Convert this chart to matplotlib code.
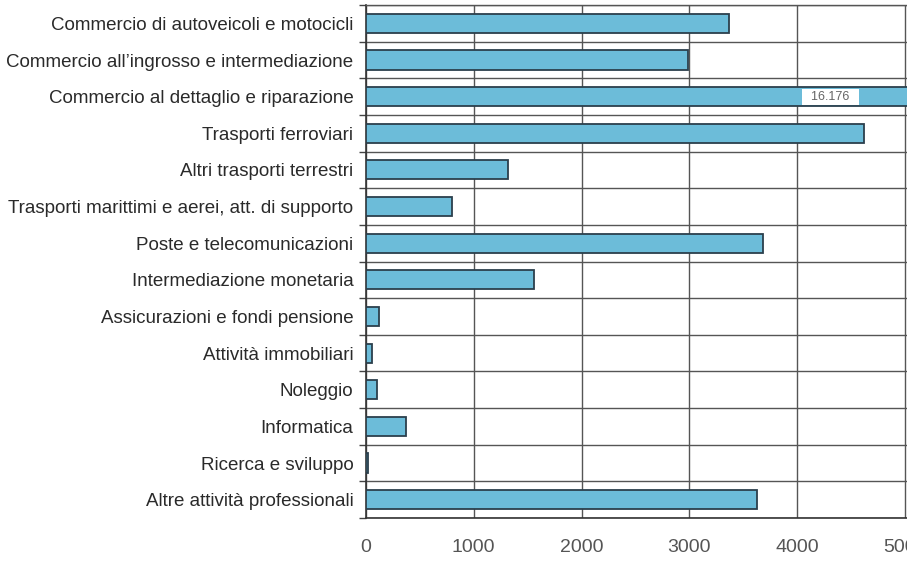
import numpy as np
import matplotlib.pyplot as plt
from matplotlib.ticker import FixedLocator

categorie = [
    "Commercio di autoveicoli e motocicli",
    "Commercio all\u2019ingrosso e intermediazione",
    "Commercio al dettaglio e riparazione",
    "Trasporti ferroviari",
    "Altri trasporti terrestri",
    "Trasporti marittimi e aerei, att. di supporto",
    "Poste e telecomunicazioni",
    "Intermediazione monetaria",
    "Assicurazioni e fondi pensione",
    "Attivit\u00e0 immobiliari",
    "Noleggio",
    "Informatica",
    "Ricerca e sviluppo",
    "Altre attivit\u00e0 professionali",
]
valori = [3370, 2990, 16176, 4620, 1320, 800, 3680, 1560, 120, 52, 104, 371, 15, 3625]
x_ticks = [0, 1000, 2000, 3000, 4000, 5000]
etichetta_fuori_scala = "16.176"

fig = plt.figure(figsize=(9.07, 5.63), dpi=100)
ax = fig.add_axes([0.4035, 0.080, 0.5965, 0.911])

y = np.arange(len(categorie))
ax.barh(y, valori, height=0.52, color="#6cbcd9", edgecolor="#2b3f4c", linewidth=1.3, zorder=3)

# etichetta per la barra che esce dal grafico
i = valori.index(max(valori))
ax.text(4310, i, "  " + etichetta_fuori_scala + "  ", ha="center", va="center", fontsize=9,
        color="#666666", family=["Liberation Sans", "DejaVu Sans"], zorder=4,
        bbox=dict(boxstyle="square,pad=0.15", fc="white", ec="none"))

ax.set_xlim(0, 5020)
ax.set_ylim(len(categorie) - 0.5, -0.5)

ax.set_yticks(y)
ax.set_yticklabels(categorie, family=["Liberation Sans Narrow", "Liberation Sans", "DejaVu Sans"],
                   fontsize=13.5, color="#2a2a2a")
ax.yaxis.set_minor_locator(FixedLocator(np.arange(-0.5, len(categorie), 1)))
ax.tick_params(axis="y", which="major", length=0, pad=9)
ax.tick_params(axis="y", which="minor", length=5, width=1, color="#444444")

ax.set_xticks(x_ticks)
ax.set_xticklabels([str(v) for v in x_ticks], family=["Liberation Sans", "DejaVu Sans"],
                   fontsize=14, color="#555555")
ax.tick_params(axis="x", length=0, pad=15)

ax.grid(axis="x", which="major", color="#555555", linewidth=1)
ax.grid(axis="y", which="minor", color="#555555", linewidth=1)
ax.set_axisbelow(True)

ax.spines["right"].set_visible(False)
ax.spines["top"].set_color("#555555")
ax.spines["top"].set_linewidth(1)
for s in ["left", "bottom"]:
    ax.spines[s].set_color("#333333")
    ax.spines[s].set_linewidth(1.2)

fig.savefig("out.png", dpi=100)
